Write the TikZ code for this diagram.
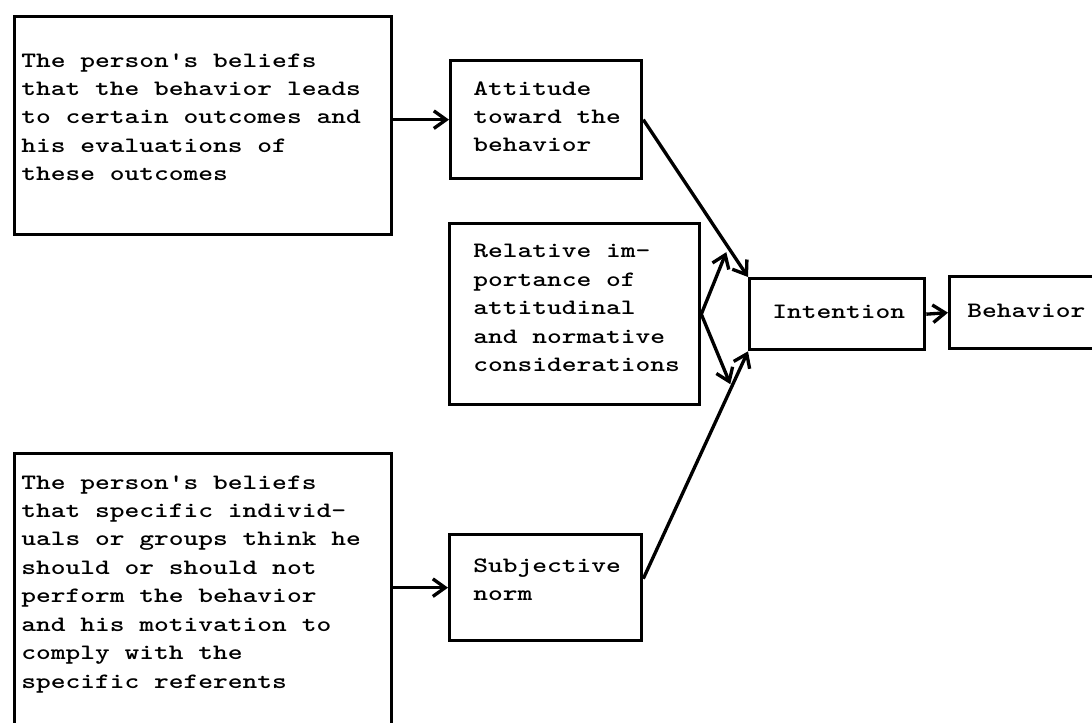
\documentclass[tikz,border=0pt]{standalone}
\usepackage{fontspec}
\usetikzlibrary{arrows.meta,calc}
\newfontfamily\typewriter{lmmonolt10-bold.otf}[FakeStretch=1.28]

\begin{document}
\begin{tikzpicture}[
	x=0.02cm, y=-0.02cm,
	% Node styles
	box/.style={
		rectangle,
		draw=black,
		line width=1.9pt,
		anchor=north west,
		inner sep=0pt
	},
	words/.style={
		font=\typewriter\fontsize{12.5}{16.2}\selectfont,
		align=left,
		anchor=north west,
		inner sep=0pt
	},
	oneline/.style={
		font=\typewriter\fontsize{12.5}{16.2}\selectfont,
		anchor=base west,
		inner sep=0pt
	},
	arrow/.style={
		-{Straight Barb[length=7pt,width=10pt]},
		line width=1.9pt
	}
	]
	
	% Frame of the scan
	\useasboundingbox (0,0) rectangle (1092,723);
	\clip (0,0) rectangle (1092,723);
	
	% Beliefs about outcomes
	\node[box, minimum width=7.54cm, minimum height=4.36cm] (belief1) at (13,15) {};
	\node[words] (belief1text) at (21,53) {The person's beliefs\\that the behavior leads\\to certain outcomes and\\his evaluations of\\these outcomes};
	
	% Normative beliefs
	\node[box, minimum width=7.54cm, minimum height=6cm] (belief2) at (13,452) {};
	\node[words] (belief2text) at (21,475) {The person's beliefs\\that specific individ-\\uals or groups think he\\should or should not\\perform the behavior\\and his motivation to\\comply with the\\specific referents};
	
	% Middle column
	\node[box, minimum width=3.82cm, minimum height=2.36cm] (attitude) at (449,59) {};
	\node[words] (attitudetext) at (473,81) {Attitude\\toward the\\behavior};
	
	\node[box, minimum width=5cm, minimum height=3.62cm] (relative) at (448,222) {};
	\node[words] (relativetext) at (473,244) {Relative im-\\portance of\\attitudinal\\and normative\\considerations};
	
	\node[box, minimum width=3.84cm, minimum height=2.12cm] (subjective) at (448,533) {};
	\node[words] (subjectivetext) at (473,558) {Subjective\\norm};
	
	% Right column
	\node[box, minimum width=3.5cm, minimum height=1.42cm] (intention) at (748,277) {};
	\node[oneline] (intentiontext) at (772,318) {Intention};
	
	\node[box, minimum width=4cm, minimum height=1.44cm] (behavior) at (948,275) {};
	\node[oneline] (behaviortext) at (967,317) {Behavior};
	
	% Ends of the weighting arrows
	\coordinate (up) at ($(relative.east)+(25,-62)$);
	\coordinate (down) at ($(relative.east)+(29,70)$);
	\coordinate (normout) at ($(subjective.east)+(0,-9)$);
	
	% Arrows
	\draw[arrow] (attitude.west -| belief1.east) -- (attitude.west);
	\draw[arrow] (subjective.west -| belief2.east) -- (subjective.west);
	\draw[arrow] (attitude.east) -- (intention.north west);
	\draw[arrow] (normout) -- (intention.south west);
	\draw[arrow] (relative.east) -- (up);
	\draw[arrow] (relative.east) -- (down);
	\draw[arrow] (intention.east) -- (behavior.west);
	
\end{tikzpicture}
\end{document}
